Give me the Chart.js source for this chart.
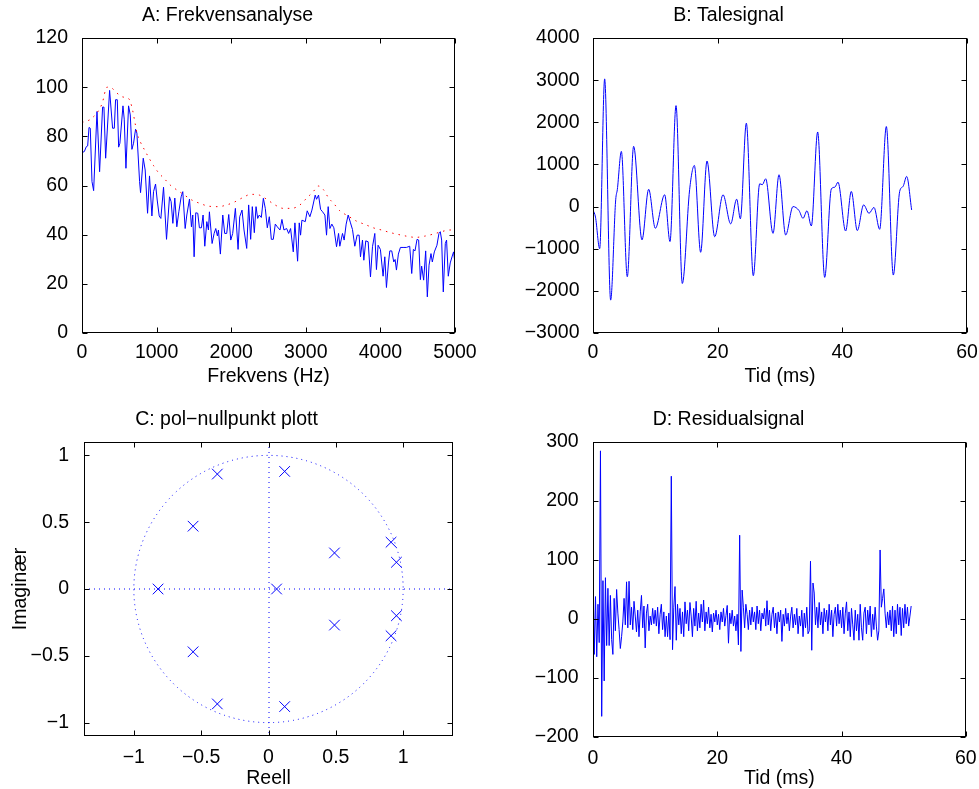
<!DOCTYPE html>
<html>
<head>
<meta charset="utf-8">
<script src="https://cdn.jsdelivr.net/npm/chart.js@4.4.1/dist/chart.umd.min.js"></script>
<style>
  body { margin: 0; background: #fff; width: 979px; height: 789px; position: relative; overflow: hidden; }
  canvas { position: absolute; }
</style>
</head>
<body>
<canvas id="frekvens" width="490" height="395" style="left:0;top:0"></canvas>
<canvas id="tale" width="489" height="395" style="left:490px;top:0"></canvas>
<canvas id="polnull" width="490" height="400" style="left:0;top:400px"></canvas>
<canvas id="residual" width="489" height="400" style="left:490px;top:400px"></canvas>
<script>
// A: spectrum (Hz, dB) and LPC envelope
const specFreq = [0, 31, 58, 76, 94, 111, 134, 156, 201, 236, 276, 294, 317, 370, 410, 433, 450, 473, 491, 508,
  549, 566, 589, 624, 647, 669, 691, 718, 736, 772, 785, 821, 847, 879, 905, 937, 959, 986, 1008, 1035,
  1057, 1093, 1133, 1173, 1195, 1218, 1244, 1271, 1298, 1329, 1351, 1383, 1405, 1441, 1467, 1485, 1503, 1525, 1552, 1574,
  1601, 1623, 1646, 1673, 1695, 1708, 1744, 1771, 1793, 1815, 1829, 1855, 1887, 1913, 1940, 1967, 1994, 2020, 2056, 2092,
  2114, 2145, 2172, 2208, 2234, 2261, 2283, 2310, 2333, 2355, 2377, 2404, 2431, 2457, 2484, 2511, 2538, 2564, 2591, 2618,
  2654, 2680, 2707, 2743, 2770, 2796, 2832, 2854, 2890, 2912, 2930, 2948, 2993, 3019, 3055, 3082, 3126, 3144, 3171, 3198,
  3225, 3256, 3278, 3300, 3323, 3349, 3376, 3412, 3439, 3456, 3492, 3514, 3541, 3568, 3599, 3626, 3657, 3688, 3715, 3733,
  3760, 3778, 3804, 3836, 3867, 3894, 3925, 3947, 3969, 4000, 4036, 4059, 4081, 4108, 4126, 4152, 4179, 4197, 4215, 4241,
  4268, 4304, 4348, 4393, 4420, 4442, 4464, 4491, 4513, 4536, 4553, 4580, 4607, 4629, 4652, 4678, 4696, 4723, 4758, 4785,
  4803, 4821, 4843, 4870, 4887, 4910, 4936, 4963, 4981, 5000];
const specDb = [73.4, 73.8, 75.8, 76.1, 83.6, 83.3, 61.6, 57.9, 90.1, 65.6, 91.9, 91.9, 71.1, 98.7, 83.3, 83.3, 94.9, 94.9, 75.6, 77.2,
  92.4, 87.0, 67.0, 92.4, 88.7, 74.7, 77.2, 82.9, 81.3, 61.6, 57.1, 71.1, 66.3, 48.7, 63.9, 47.6, 57.5, 60.6, 54.1, 47.6,
  46.6, 59.3, 38.1, 55.4, 53.4, 44.6, 54.9, 43.2, 49.3, 55.4, 57.5, 42.5, 48.0, 54.5, 43.2, 48.0, 31.0, 48.9, 48.7, 42.8,
  42.8, 48.0, 35.3, 45.3, 41.9, 49.3, 36.4, 40.5, 42.5, 39.5, 41.9, 32.1, 48.0, 40.5, 40.5, 48.2, 37.8, 40.5, 50.7, 34.0,
  47.3, 50.0, 41.9, 34.4, 52.1, 38.1, 51.4, 40.8, 51.4, 46.6, 48.0, 47.0, 54.8, 50.7, 42.8, 47.3, 38.1, 38.1, 44.3, 43.2,
  41.9, 46.2, 41.9, 42.5, 40.5, 42.5, 33.0, 44.8, 29.2, 44.8, 39.8, 45.9, 45.3, 49.7, 47.3, 50.0, 56.1, 54.4, 56.1, 50.3,
  49.3, 48.0, 39.8, 51.4, 42.5, 44.3, 42.8, 35.1, 40.5, 35.3, 40.5, 37.8, 44.3, 48.0, 44.8, 42.1, 35.3, 39.8, 39.8, 31.0,
  37.8, 29.6, 37.5, 37.1, 22.8, 35.1, 40.5, 25.8, 35.7, 34.0, 23.1, 31.0, 18.5, 28.5, 33.4, 33.4, 28.9, 29.9, 25.6, 32.1,
  34.8, 34.8, 34.8, 35.3, 24.2, 34.0, 33.4, 38.1, 37.8, 21.7, 27.2, 21.5, 33.4, 14.7, 27.6, 32.3, 28.9, 33.0, 35.7, 40.5,
  41.2, 37.8, 16.7, 36.4, 37.8, 23.1, 28.5, 31.3, 33.0, 28.3];
const lpcFreq = [0, 134, 268, 334, 401, 468, 549, 624, 669, 691, 713, 736, 780, 834, 892, 959, 1026, 1106, 1182, 1271,
  1360, 1472, 1583, 1695, 1829, 1940, 2052, 2163, 2261, 2377, 2475, 2587, 2698, 2810, 2921, 3010, 3100, 3167, 3234, 3300,
  3390, 3456, 3568, 3680, 3791, 3903, 4014, 4126, 4237, 4348, 4473, 4593, 4705, 4817, 4928, 5000];
const lpcDb = [85.6, 87.4, 93.2, 100.0, 99.6, 97.6, 96.0, 95.4, 91.9, 88.7, 85.1, 81.5, 77.9, 74.7, 71.5, 68.1, 65.2, 62.7, 60.2, 58.2,
  56.4, 54.1, 52.7, 51.6, 51.4, 52.1, 53.4, 55.2, 56.4, 56.1, 54.4, 52.1, 50.7, 50.7, 52.1, 54.8, 57.5, 59.8, 58.4, 55.2,
  52.1, 49.7, 47.6, 45.5, 44.2, 42.8, 41.9, 40.9, 40.1, 39.4, 38.9, 39.4, 40.2, 41.2, 41.9, 41.9];

// B: speech signal, turning points (ms, amplitude)
const speechT = [0, 0.4, 1.07, 1.87, 2.83, 3.64, 3.9, 4.55, 5.5, 6.52, 7.86, 8.93, 10.0, 11.5, 12.35, 13.32, 14.33, 15.5, 16.26, 17.27,
  18.29, 19.52, 20.86, 22.09, 23.05, 23.64, 24.6, 25.72, 26.74, 27.17, 27.7, 28.88, 29.84, 30.91, 32.09, 33.05, 33.69, 34.33, 35.03, 36.04,
  37.17, 38.24, 38.8, 39.3, 40.53, 41.44, 42.4, 43.42, 44.28, 45.08, 45.99, 47.06, 48.18, 49.2, 49.73, 50.32, 51.12];
const speechV = [-80, -250, -1000, 3030, -2220, 160, 400, 1310, -1665, 1430, -790, 410, -515, 280, -830, 2395, -1825, 400, 975, -1085,
  1080, -715, 280, -410, 175, -290, 1980, -1640, 540, 520, 660, -635, 755, -675, 0, -95, -280, -100, -460, 1770,
  -1680, 420, 460, 580, -580, 360, -570, 40, -160, -20, -540, 1900, -1625, 360, 475, 715, -80];

// C: poles
const poleRe = [-0.82, 0.06, -0.56, -0.56, -0.38, -0.38, 0.12, 0.12, 0.49, 0.49, 0.91, 0.91, 0.95, 0.95];
const poleIm = [0, 0, 0.47, -0.47, 0.86, -0.86, 0.88, -0.88, 0.27, -0.27, 0.35, -0.35, 0.2, -0.2];

// D: residual signal, one value every 0.2 ms
const residualStep = 0.2;
const residual = [
  66, -60, 38, -64, 25, -40, 285, -165, 65, -105,
  70, -45, 52, -45, 40, -35, -60, 35, -20, 50,
  10, -18, -50, -30, -5, 35, -10, 63, -15, 64,
  -10, 20, -18, 30, 5, -22, 15, -30, 12, 40,
  -15, 22, -49, 10, 25, -20, 5, -10, 18, -8,
  15, -12, 20, -25, 8, 25, -18, 12, -30, 5,
  -30, 10, -35, 242, -52, 20, 55, -36, 25, -10,
  18, -25, 12, -30, 29, -8, 15, -20, 28, 5,
  -30, 18, -12, 30, -20, 10, -15, 25, -5, 32,
  -20, 12, -8, 20, -15, 8, -22, 10, -5, 15,
  -10, 8, -18, 12, -5, 18, -12, 6, 23, -41,
  10, -8, 15, -12, 5, -20, 8, -44, 142, -55,
  49, 20, -15, 25, 8, -18, 15, -10, 20, -5,
  12, -18, 22, -8, 15, -20, 10, 0, 18, -12,
  31, -10, 15, -20, 8, 20, -15, 10, -25, 12,
  -5, 15, -38, 8, -12, 18, -8, 10, -20, 5,
  20, -15, 8, -10, 18, -25, 5, -12, 15, -30,
  10, -15, 20, -25, -20, 98, -53, 61, 44, -10,
  20, -15, 28, -10, 12, -25, 18, -5, 15, -20,
  25, -10, 15, -30, 8, 20, -12, 25, -8, 15,
  -15, 20, -25, 10, 29, -20, 12, -30, 18, -10,
  -36, 15, -20, 8, -36, 25, -15, -36, 10, 20,
  -25, 15, -10, 22, -30, 8, -18, 20, -12, -36,
  -20, 117, 20, 35, 51, 10, -15, 12, -10, 15,
  -20, 22, -30, 15, -25, 25, -10, 20, -28, 18,
  -15, 25, -8, 20, -12, 5, 22];

// tick values
const ticksAx = [0, 1000, 2000, 3000, 4000, 5000];
const ticksAy = [0, 20, 40, 60, 80, 100, 120];
const ticksBx = [0, 20, 40, 60];
const ticksBy = [-3000, -2000, -1000, 0, 1000, 2000, 3000, 4000];
const ticksCx = [-1, -0.5, 0, 0.5, 1];
const ticksCy = [-1, -0.5, 0, 0.5, 1];
const ticksDx = [0, 20, 40, 60];
const ticksDy = [-200, -100, 0, 100, 200, 300];

const FONT = 19.5;
Chart.defaults.font.family = '"Liberation Sans", Arial, Helvetica, sans-serif';
Chart.defaults.font.size = FONT;
Chart.defaults.font.lineHeight = 1.2;
Chart.defaults.color = '#000';

const minusSign = v => String(v).replace('-', '\u2212');
const pairs = (xs, ys) => xs.map((x, i) => ({ x: x, y: ys[i] }));

function axis(vals, min, max, size, horizontal, pad, title, titlePad) {
  return {
    type: 'linear', min: min, max: max,
    grid: { display: false }, border: { display: false },
    afterBuildTicks: s => { s.ticks = vals.map(v => ({ value: v })); },
    afterFit: s => { if (horizontal) s.height = size; else s.width = size; },
    ticks: { padding: pad, autoSkip: false, maxRotation: 0, callback: v => minusSign(v) },
    title: { display: !!title, text: title || '', padding: titlePad || 0 }
  };
}

function options(title, titlePad, layoutPad, xAxis, yAxis) {
  return {
    responsive: false,
    animation: false,
    layout: { padding: layoutPad },
    plugins: {
      legend: { display: false },
      tooltip: { enabled: false },
      title: { display: true, text: title, color: '#000', font: { size: FONT, weight: 'normal' }, padding: titlePad }
    },
    scales: { x: xAxis, y: yAxis }
  };
}

// MATLAB style frame with inward ticks on all four sides
const frame = {
  id: 'frame',
  afterDatasetsDraw(chart) {
    const { ctx, chartArea: a, scales } = chart;
    const L = Math.round(a.left) + 0.5, R = Math.round(a.right) - 0.5;
    const T = Math.round(a.top) + 0.5, B = Math.round(a.bottom) - 0.5;
    ctx.save();
    ctx.strokeStyle = '#000';
    ctx.lineWidth = 1;
    ctx.strokeRect(L, T, R - L, B - T);
    ctx.beginPath();
    scales.x.ticks.forEach(t => {
      const p = Math.round(scales.x.getPixelForValue(t.value)) + 0.5;
      ctx.moveTo(p, B); ctx.lineTo(p, B - 5);
      ctx.moveTo(p, T); ctx.lineTo(p, T + 5);
    });
    scales.y.ticks.forEach(t => {
      const p = Math.round(scales.y.getPixelForValue(t.value)) + 0.5;
      ctx.moveTo(L, p); ctx.lineTo(L + 5, p);
      ctx.moveTo(R, p); ctx.lineTo(R - 5, p);
    });
    ctx.stroke();
    ctx.restore();
  }
};
Chart.register(frame);

// unit circle and axes for the pole-zero plot
const zGuides = {
  id: 'zGuides',
  beforeDatasetsDraw(chart) {
    const { ctx, chartArea: a, scales: { x, y } } = chart;
    const cx = x.getPixelForValue(0), cy = y.getPixelForValue(0);
    const rx = x.getPixelForValue(1) - cx, ry = cy - y.getPixelForValue(1);
    ctx.save();
    ctx.beginPath();
    ctx.rect(a.left, a.top, a.right - a.left, a.bottom - a.top);
    ctx.clip();
    ctx.strokeStyle = '#0000ff';
    ctx.lineWidth = 1;
    ctx.setLineDash([1, 4]);
    ctx.beginPath();
    ctx.ellipse(cx, cy, rx, ry, 0, 0, Math.PI * 2);
    ctx.stroke();
    ctx.beginPath();
    ctx.moveTo(a.left, Math.round(cy)); ctx.lineTo(a.right, Math.round(cy));
    ctx.moveTo(Math.round(cx), a.top); ctx.lineTo(Math.round(cx), a.bottom);
    ctx.stroke();
    ctx.restore();
  }
};

const blue = '#0000ff';

new Chart(document.getElementById('frekvens'), {
  type: 'line',
  data: {
    datasets: [
      { data: pairs(lpcFreq, lpcDb), borderColor: '#ff0000', borderWidth: 1, borderDash: [1.5, 5], pointRadius: 0, cubicInterpolationMode: 'monotone' },
      { data: pairs(specFreq, specDb), borderColor: blue, borderWidth: 1, pointRadius: 0, tension: 0 }
    ]
  },
  options: options('A: Frekvensanalyse', { top: 3.8, bottom: 10.8 }, { left: 0, right: 35, top: 0, bottom: 6.8 },
    axis(ticksAx, 0, 5000, 55.2, true, 0.3, 'Frekvens (Hz)'),
    axis(ticksAy, 0, 120, 82, false, 6))
});

new Chart(document.getElementById('tale'), {
  type: 'line',
  data: {
    datasets: [
      { data: pairs(speechT, speechV), borderColor: blue, borderWidth: 1, pointRadius: 0, cubicInterpolationMode: 'monotone' }
    ]
  },
  options: options('B: Talesignal', { top: 3.8, bottom: 10.8 }, { left: 0, right: 12, top: 0, bottom: 6.8 },
    axis(ticksBx, 0, 60, 55.2, true, 0.3, 'Tid (ms)'),
    axis(ticksBy, -3000, 4000, 103, false, 5.5))
});

new Chart(document.getElementById('polnull'), {
  type: 'scatter',
  data: {
    datasets: [
      { data: pairs(poleRe, poleIm), borderColor: blue, backgroundColor: blue, borderWidth: 1, pointStyle: 'crossRot', pointRadius: 7.5 }
    ]
  },
  options: options('C: pol\u2212nullpunkt plott', { top: 8.3, bottom: 10.3 }, { left: 0, right: 37, top: 0, bottom: 9.3 },
    axis(ticksCx, -1.37, 1.37, 54.7, true, 2.3, 'Reell'),
    axis(ticksCy, -1.1, 1.1, 84, false, 7, 'Imaginær', 9)),
  plugins: [zGuides]
});

new Chart(document.getElementById('residual'), {
  type: 'line',
  data: {
    datasets: [
      { data: residual.map((v, i) => ({ x: +(i * residualStep).toFixed(1), y: v })), borderColor: blue, borderWidth: 1, pointRadius: 0, tension: 0 }
    ]
  },
  options: options('D: Residualsignal', { top: 8.3, bottom: 10.3 }, { left: 0, right: 12, top: 0, bottom: 9.3 },
    axis(ticksDx, 0, 60, 53.7, true, 2.3, 'Tid (ms)'),
    axis(ticksDy, -200, 300, 103, false, 6.3))
});
</script>
</body>
</html>
